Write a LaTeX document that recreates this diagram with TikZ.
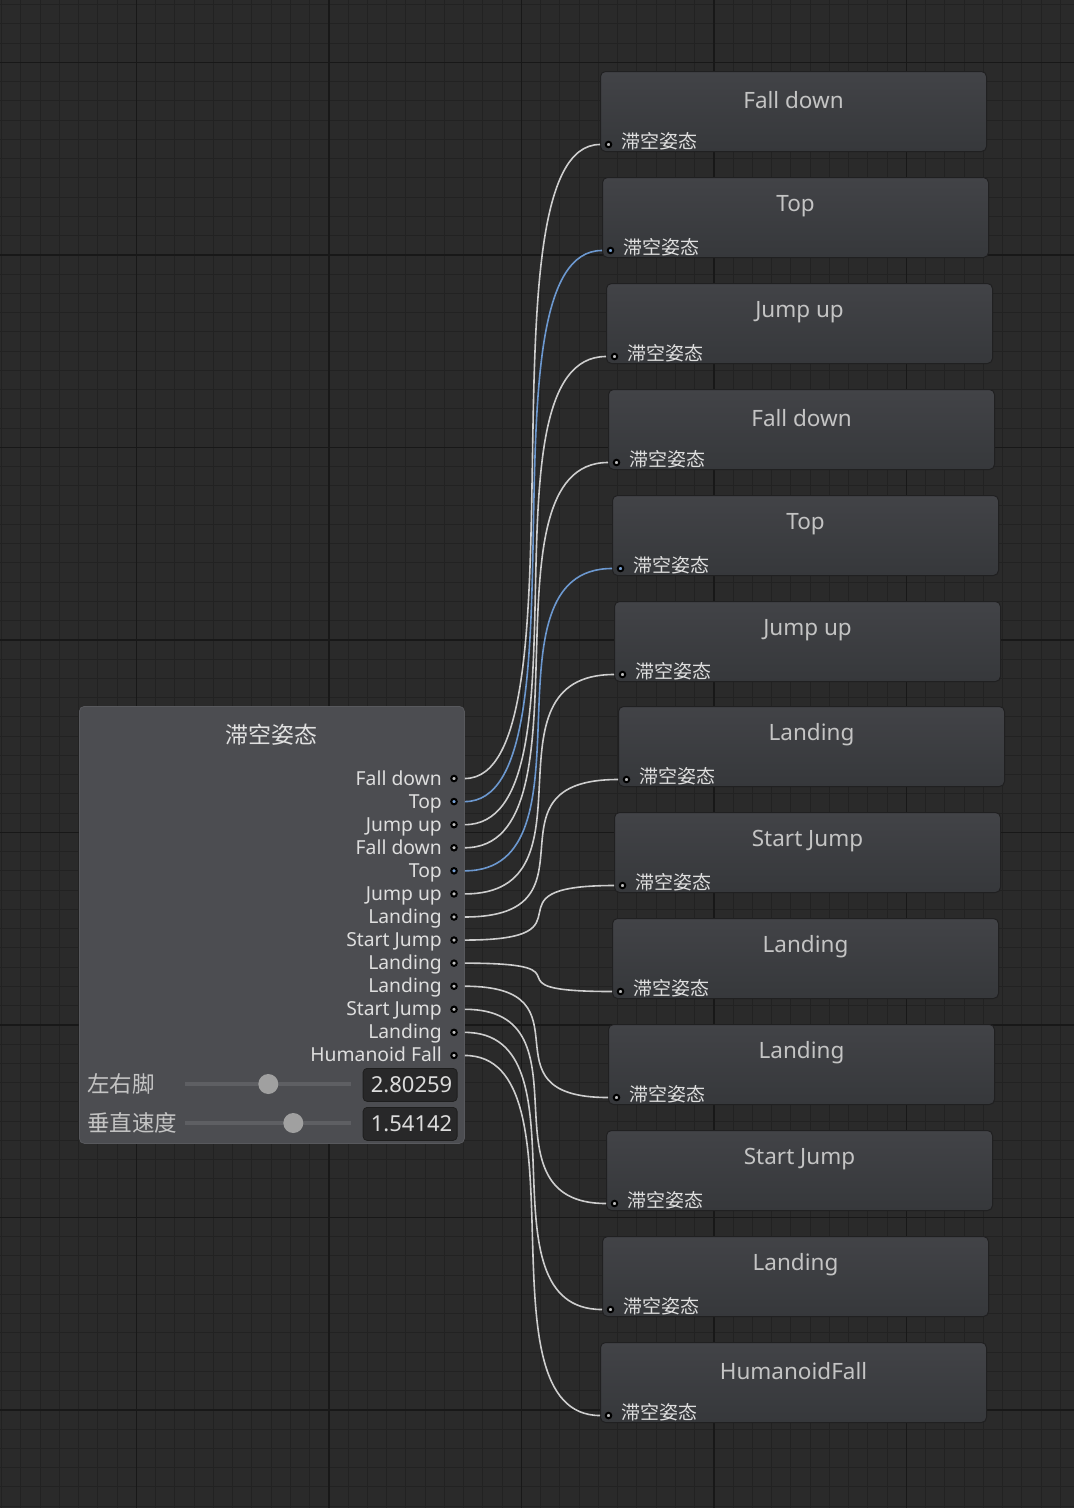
\documentclass[tikz,border=0pt]{standalone}
\usepackage{fontspec}
\setmainfont{Noto Sans}
\newfontfamily\cjk{Noto Sans CJK SC}
\definecolor{bgc}{RGB}{42,42,42}
\definecolor{gminor}{RGB}{34,34,34}
\definecolor{gmajor}{RGB}{24,24,24}
\definecolor{lnodefill}{RGB}{76,77,81}
\definecolor{lnodeline}{RGB}{88,89,93}
\definecolor{rtop}{RGB}{66,67,71}
\definecolor{rbot}{RGB}{54,56,59}
\definecolor{rline}{RGB}{32,32,33}
\definecolor{wirec}{RGB}{206,206,206}
\definecolor{wireb}{RGB}{108,152,207}
\definecolor{titlec}{RGB}{225,225,225}
\definecolor{rtitlec}{RGB}{196,196,196}
\definecolor{labelc}{RGB}{222,222,222}
\definecolor{slabelc}{RGB}{196,196,196}
\definecolor{portin}{RGB}{190,190,190}
\definecolor{portblue}{RGB}{120,160,210}
\definecolor{trackc}{RGB}{94,95,99}
\definecolor{knobc}{RGB}{160,160,160}
\definecolor{boxfill}{RGB}{40,40,41}
\definecolor{boxline}{RGB}{30,30,30}
\definecolor{valc}{RGB}{220,220,220}
\tikzset{
  lnode/.style={draw=lnodeline, line width=0.8pt, fill=lnodefill, rounded corners=5pt, inner sep=0pt},
  rnode/.style={draw=rline, line width=1pt, top color=rtop, bottom color=rbot, rounded corners=5pt, inner sep=0pt, minimum width=386pt, minimum height=80pt},
  rtitle/.style={font=\fontsize{22.5}{23}\selectfont, text=rtitlec, inner sep=0pt},
  rlabel/.style={font=\cjk\fontsize{19}{19}\selectfont, text=labelc, inner sep=0pt},
  plabel/.style={font=\fontsize{19.3}{20}\selectfont, text=labelc, inner sep=0pt},
  portdot/.style={circle, draw=black, line width=2pt, minimum size=5.5pt, inner sep=0pt},
  wire/.style={draw=wirec, line width=1.6pt},
  bwire/.style={draw=wireb, line width=1.6pt},
  slabel/.style={font=\cjk\fontsize{22.5}{23}\selectfont, text=slabelc, inner sep=0pt},
  knob/.style={circle, fill=knobc, minimum size=20pt, inner sep=0pt},
  track/.style={draw=trackc, line width=3.5pt},
  valbox/.style={draw=boxline, line width=0.8pt, fill=boxfill, rounded corners=4pt, inner sep=0pt, minimum width=94pt, minimum height=33pt},
  valtext/.style={font=\fontsize{22}{22}\selectfont, text=valc, inner sep=0pt}
}
\begin{document}
\begin{tikzpicture}[x=1pt,y=-1pt]
\fill[bgc] (0,0) rectangle (1074,1508);
\useasboundingbox (0,0) rectangle (1074,1508);
\begin{scope}
\clip (0,0) rectangle (1074,1508);
\foreach \i in {-7,...,49} \draw[gminor, line width=1.1pt] ({136.3+\i*19.25},0) -- ++(0,1508);
\foreach \i in {-3,...,75} \draw[gminor, line width=1.1pt] (0,{62.3+\i*19.25}) -- ++(1074,0);
\foreach \i in {0,...,4} \draw[gmajor, line width=1.4pt] ({136.3+\i*192.5},0) -- ++(0,1508);
\foreach \i in {0,...,7} \draw[gmajor, line width=1.4pt] (0,{62.3+\i*192.5}) -- ++(1074,0);
\end{scope}

% source node
\node[lnode, anchor=north west, minimum width=385pt, minimum height=437pt] (src) at (79,706) {};
\node[font=\cjk\fontsize{23}{23}\selectfont, text=titlec, inner sep=0pt] (srctitle) at (271.5,735) {滞空姿态};

\foreach \i/\lbl/\c in {1/Fall down/portin,2/Top/portblue,3/Jump up/portin,4/Fall down/portin,5/Top/portblue,6/Jump up/portin,7/Landing/portin,8/Start Jump/portin,9/Landing/portin,10/Landing/portin,11/Start Jump/portin,12/Landing/portin,13/Humanoid Fall/portin} {
  \pgfmathsetmacro\yy{778.5+23.08*(\i-1)}
  \node[portdot, fill=\c] (lp\i) at (454,\yy) {};
  \node[plabel, anchor=base east] (ll\i) at (442,{\yy+6.5}) {\lbl};
  \coordinate (a\i) at (src.east |- lp\i);
}

% sliders
\node[slabel, anchor=west] (s1l) at (87,1084) {左右脚};
\draw[track] (185,1084) -- (351,1084);
\node[knob] (k1) at (268.3,1084) {};
\node[valbox, anchor=north west] (v1) at (362.7,1068) {};
\node[valtext, anchor=east] (vt1) at (452.5,1084.5) {2.80259};

\node[slabel, anchor=west] (s2l) at (87,1123) {垂直速度};
\draw[track] (185,1123) -- (351,1123);
\node[knob] (k2) at (293.3,1123) {};
\node[valbox, anchor=north west] (v2) at (362.7,1107) {};
\node[valtext, anchor=east] (vt2) at (452.5,1123.5) {1.54142};

% target nodes
\foreach \i/\x/\y/\ttl/\c in {1/600/71/Fall down/portin,2/602/177/Top/portblue,3/606/283/Jump up/portin,4/608/389/Fall down/portin,5/612/495/Top/portblue,6/614/601/Jump up/portin,7/618/706/Landing/portin,8/614/812/Start Jump/portin,9/612/918/Landing/portin,10/608/1024/Landing/portin,11/606/1130/Start Jump/portin,12/602/1236/Landing/portin,13/600/1342/HumanoidFall/portin} {
  \node[rnode, anchor=north west] (r\i) at (\x,\y) {};
  \node[rtitle] (rt\i) at ([yshift=-29pt]r\i.north) {\ttl};
  \node[portdot, fill=\c] (rp\i) at ([xshift=8.5pt,yshift=7.5pt]r\i.south west) {};
  \node[rlabel, anchor=base west] (rl\i) at ([xshift=21pt,yshift=4pt]r\i.south west) {滞空姿态};
  \coordinate (b\i) at (r\i.west |- rp\i);
}

% connectors
\foreach \i/\d/\s in {1/125/wire,2/127/bwire,3/131/wire,4/132/wire,5/136/bwire,6/138/wire,7/142/wire,8/138/wire,9/136/wire,10/132/wire,11/131/wire,12/127/wire,13/125/wire}
  \draw[\s] (a\i) .. controls +(\d,0) and +(-\d,0) .. (b\i);
\end{tikzpicture}
\end{document}
